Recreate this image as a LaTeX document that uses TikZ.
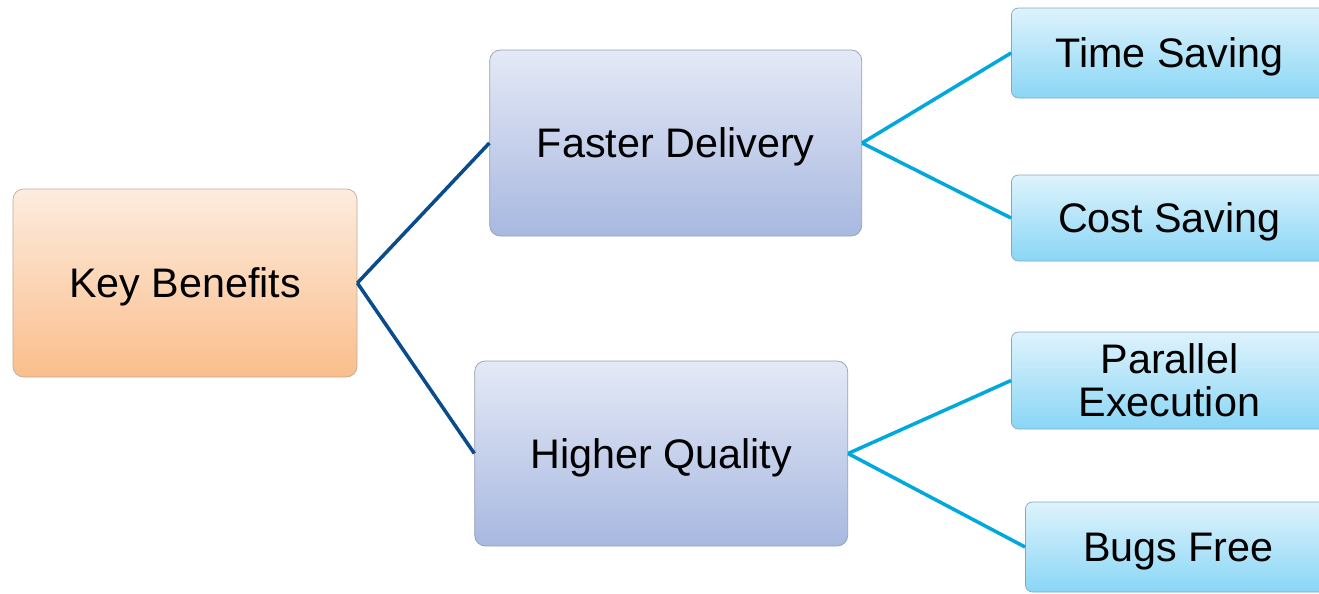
\documentclass[tikz,border=0pt]{standalone}
\usepackage{fontspec}
\setmainfont{Liberation Sans}
\usepackage{xcolor}
\usetikzlibrary{positioning}
\definecolor{rootTop}{RGB}{253,236,222}
\definecolor{rootBot}{RGB}{250,190,140}
\definecolor{rootLine}{RGB}{190,172,155}
\definecolor{midTop}{RGB}{228,233,246}
\definecolor{midBot}{RGB}{168,184,224}
\definecolor{midLine}{RGB}{150,158,178}
\definecolor{leafTop}{RGB}{222,243,252}
\definecolor{leafBot}{RGB}{138,214,246}
\definecolor{leafLine}{RGB}{130,170,190}
\definecolor{darkLink}{RGB}{10,75,140}
\definecolor{lightLink}{RGB}{0,168,222}
\tikzset{
  rootbox/.style={rectangle, draw=rootLine, rounded corners=6pt, top color=rootTop,
                  bottom color=rootBot, minimum width=6.88cm, minimum height=3.76cm,
                  text depth=0pt, align=center, font=\fontsize{23.5}{24.5}\selectfont},
  midbox/.style={rectangle, draw=midLine, rounded corners=6pt, top color=midTop,
                 bottom color=midBot, minimum width=7.44cm, minimum height=3.72cm,
                 text depth=0pt, align=center, font=\fontsize{23.5}{24.5}\selectfont},
  leafbox/.style={rectangle, draw=leafLine, rounded corners=4pt, top color=leafTop,
                  bottom color=leafBot, minimum width=6.32cm, minimum height=1.8cm,
                  inner sep=1pt, align=center, font=\fontsize{23.5}{24.5}\selectfont},
  darkline/.style={draw=darkLink, line width=2pt},
  lightline/.style={draw=lightLink, line width=2pt}
}
\begin{document}
\begin{tikzpicture}
  \useasboundingbox (0,0) rectangle (26.38,-11.86);

  % Root
  \node[rootbox] (kb) at (3.70,-5.66) {Key Benefits};

  % Second level
  \node[midbox, right=2.64cm of kb, yshift=2.8cm] (fd) {Faster Delivery};
  \node[midbox, right=2.34cm of kb, yshift=-3.41cm, minimum width=7.46cm,
        minimum height=3.70cm] (hq) {Higher Quality};

  % Leaves
  \node[leafbox, right=2.98cm of fd, yshift=1.8cm, text depth=0pt] (ts) {Time Saving};
  \node[leafbox, right=2.98cm of fd, yshift=-1.5cm, minimum height=1.72cm,
        text depth=0pt] (cs) {Cost Saving};
  \node[leafbox, right=3.26cm of hq, yshift=1.46cm, minimum height=1.94cm] (pe) {Parallel\\Execution};
  \node[leafbox, right=3.54cm of hq, yshift=-1.87cm, minimum width=6.12cm,
        text depth=0pt] (bf) {Bugs Free};

  % Links root -> second level
  \draw[darkline] (kb.east) -- (fd.west);
  \draw[darkline] (kb.east) -- (hq.west);

  % Links second level -> leaves
  \draw[lightline] (fd.east) -- (ts.west);
  \draw[lightline] (fd.east) -- (cs.west);
  \draw[lightline] (hq.east) -- (pe.west);
  \draw[lightline] (hq.east) -- (bf.west);
\end{tikzpicture}
\end{document}
